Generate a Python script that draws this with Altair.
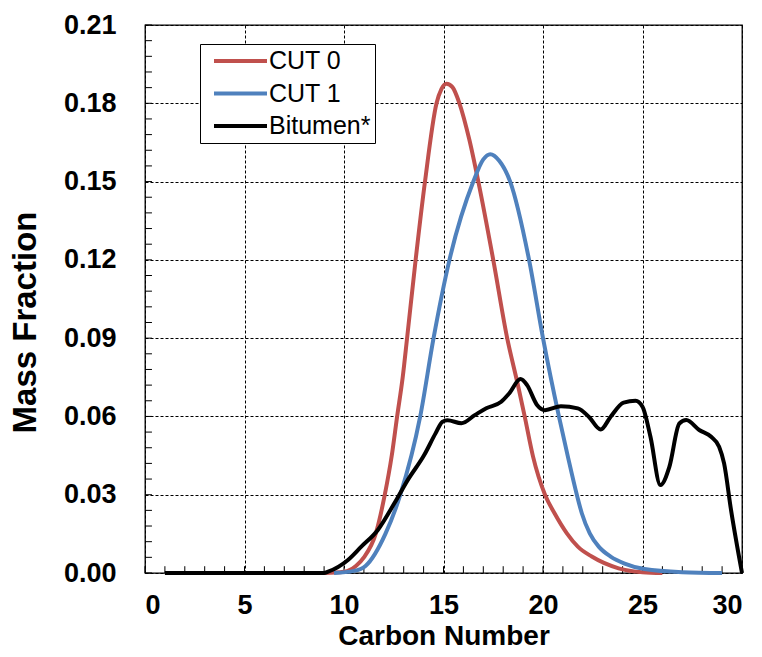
import altair as alt
import pandas as pd

# ---- data ----
cut0_x = [9.0, 10.0, 10.6, 11.0, 11.6, 12.05, 12.4, 12.67, 12.95, 13.17, 13.6, 14.07, 14.65, 14.9, 15.15,
          15.45, 15.8, 16.3, 16.75, 17.5, 18.2, 18.72, 19.08, 19.5, 20.1, 20.58, 21.2, 21.75, 22.45, 23.8,
          25.0, 26.0]
cut0_y = [0.0, 0.0005, 0.0027, 0.006, 0.0152, 0.03, 0.045, 0.06, 0.075, 0.09, 0.12, 0.15, 0.18, 0.1855, 0.1875,
          0.1862, 0.18, 0.166, 0.15, 0.12, 0.09, 0.0727, 0.06, 0.0446, 0.03, 0.0229, 0.0152, 0.0101, 0.0063,
          0.0018, 0.0003, 0.0]

cut1_x = [9.5, 10.5, 11.08, 12.08, 12.83, 13.83, 14.5, 15.3, 16.5, 17.0, 17.35, 17.8, 18.35, 19.3, 20.0,
          20.8, 21.25, 21.7, 21.95, 22.35, 22.8, 23.4, 24.1, 25.1, 27.0, 29.0]
cut1_y = [0.0, 0.0008, 0.0027, 0.015, 0.03, 0.06, 0.09, 0.12, 0.15, 0.1585, 0.1605, 0.158, 0.15, 0.12, 0.09,
          0.06, 0.0446, 0.03, 0.0229, 0.0152, 0.0101, 0.0063, 0.0036, 0.0015, 0.0003, 0.0]

bit_x = [1.0, 9.0, 9.2, 10.2, 10.87, 11.7, 12.53, 13.2, 14.03, 14.6, 14.95, 15.2, 15.9, 16.57, 17.15, 17.9,
         18.3, 18.87, 19.2, 19.7, 20.1, 20.9, 21.75, 22.3, 22.9, 23.4, 24.05, 24.65, 25.0, 25.4, 25.9, 26.35,
         26.85, 27.2, 27.85, 28.45, 28.85, 29.1, 29.45, 30.0]
bit_y = [0.0, 0.0, 0.0005, 0.005, 0.0101, 0.0165, 0.0267, 0.0356, 0.0452, 0.0535, 0.058, 0.0585, 0.0574, 0.0605,
         0.0631, 0.0656, 0.0688, 0.0743, 0.072, 0.0644, 0.0624, 0.0639, 0.0631, 0.0599, 0.055, 0.0599, 0.0653,
         0.066, 0.0637, 0.0522, 0.0337, 0.0407, 0.0573, 0.0586, 0.0548, 0.0522, 0.0484, 0.042, 0.0241, 0.0]

series_names = ["CUT 0", "CUT 1", "Bitumen*"]
series_colors = ["#C0504D", "#4F81BD", "#000000"]

x_major = [0, 5, 10, 15, 20, 25, 30]
y_major = [0.0, 0.03, 0.06, 0.09, 0.12, 0.15, 0.18, 0.21]
x_minor = list(range(0, 31))
y_minor = [round(i * 0.006, 3) for i in range(0, 36)]

# ---- tables ----
rows = []
for name, xs, ys in zip(series_names, [cut0_x, cut1_x, bit_x], [cut0_y, cut1_y, bit_y]):
    for i, (a, b) in enumerate(zip(xs, ys)):
        rows.append({"series": name, "carbon": a, "frac": b, "i": i})
df = pd.DataFrame(rows)
xt = pd.DataFrame({"carbon": x_minor})
yt = pd.DataFrame({"frac": y_minor})

FONT = "Liberation Sans"
TICK_Y = 0.0026   # inward tick length in data units (about 7 px)
TICK_X = 0.35

xscale = alt.Scale(domain=[0, 30], nice=False, zero=False)
yscale = alt.Scale(domain=[0, 0.21], nice=False)
cscale = alt.Scale(domain=series_names, range=series_colors)

xaxis = alt.Axis(values=x_major, ticks=False, domain=False, labelPadding=19,
                 labelFontSize=27, labelFont=FONT, labelFontWeight="bold", labelColor="black",
                 title="Carbon Number", titleFontSize=28, titleFont=FONT, titleFontWeight="bold",
                 titleColor="black", titleY=71, titleBaseline="alphabetic",
                 grid=True, gridColor="black", gridDash=[3, 2], gridWidth=1, gridOpacity=1)
yaxis = alt.Axis(values=y_major, format=".2f", ticks=False, domain=False, labelPadding=29,
                 labelFontSize=27, labelFont=FONT, labelFontWeight="bold", labelColor="black",
                 title="Mass Fraction", titleFontSize=33, titleFont=FONT, titleFontWeight="bold",
                 titleColor="black", titleX=-110, titleY=297, titleAngle=-90, titleAlign="center",
                 titleBaseline="alphabetic",
                 grid=True, gridColor="black", gridDash=[3, 2], gridWidth=1, gridOpacity=1)

legend = alt.Legend(title=None, orient="none", legendX=55, legendY=19, direction="vertical",
                    strokeColor="black", padding=4, symbolType="stroke", symbolSize=2809,
                    symbolStrokeWidth=4, clipHeight=26, rowPadding=6.5, labelOffset=0, symbolOffset=8,
                    labelFontSize=25, labelFont=FONT, labelColor="black", fillColor="white")

layers = []
for name in series_names:
    layers.append(
        alt.Chart(df).transform_filter(alt.datum.series == name).mark_line(
            strokeWidth=4, interpolate="monotone").encode(
            x=alt.X("carbon:Q", scale=xscale, axis=xaxis),
            y=alt.Y("frac:Q", scale=yscale, axis=yaxis),
            color=alt.Color("series:N", scale=cscale, legend=legend),
            order="i:Q",
        )
    )

xticks = alt.Chart(xt).mark_rule(color="black", strokeWidth=1).encode(
    x=alt.X("carbon:Q", scale=xscale),
    y=alt.datum(0.0),
    y2=alt.datum(TICK_Y),
)
yticks = alt.Chart(yt).mark_rule(color="black", strokeWidth=1).encode(
    y=alt.Y("frac:Q", scale=yscale),
    x=alt.datum(0.0),
    x2=alt.datum(TICK_X),
)

chart = alt.layer(xticks, yticks, *layers).properties(
    width=597, height=548,
    autosize=alt.AutoSizeParams(type="none"),
    padding={"left": 145, "top": 25, "right": 20, "bottom": 84},
    background="white",
).configure_view(stroke="black", strokeWidth=1.3)

chart.save("out.html", embed_options={"renderer": "svg", "actions": False})
